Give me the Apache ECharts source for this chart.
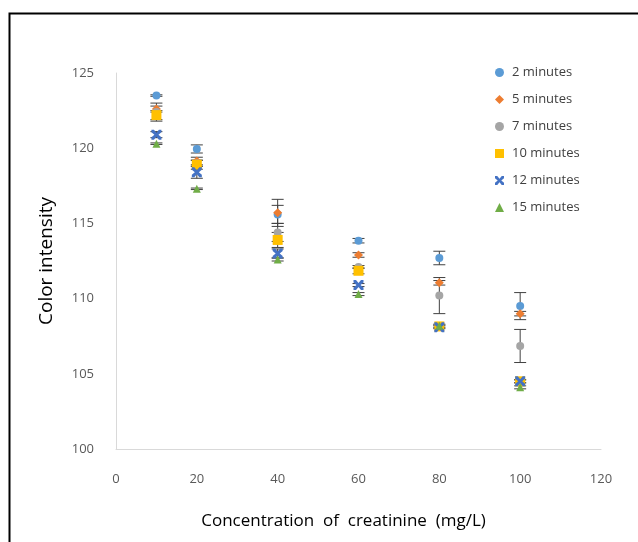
<!DOCTYPE html>
<html>
<head>
<meta charset="utf-8">
<script src="https://cdn.jsdelivr.net/npm/echarts@6/dist/echarts.min.js"></script>
<style>
  html, body { margin: 0; padding: 0; background: #fff; }
  #chart { width: 638px; height: 542px; }
</style>
</head>
<body>
<div id="chart"></div>
<script>
// Creatinine concentration (mg/L)
const concentrations = [10, 20, 40, 60, 80, 100];

// Mean colour intensity per reaction time
const min2  = [123.5, 119.95, 115.6, 113.85, 112.7, 109.5];
const min5  = [122.6, 119.15, 115.7, 112.9, 111.05, 109.0];
const min7  = [122.4, 119.0, 114.4, 112.1, 110.2, 106.85];
const min10 = [122.2, 118.9, 113.9, 111.85, 108.15, 104.5];
const min12 = [120.9, 118.4, 113.0, 110.9, 108.1, 104.5];
const min15 = [120.3, 117.3, 112.6, 110.3, 108.2, 104.1];

// Standard deviations
const sd2  = [0.05, 0.27, 0.6, 0.15, 0.45, 0.9];
const sd5  = [0.2, 0.25, 0.9, 0.15, 0.15, 0.15];
const sd7  = [0.6, 0.2, 0.6, 0.1, 1.2, 1.1];
const sd10 = [0.3, 0.3, 0.5, 0.2, 0.1, 0.1];
const sd12 = [0.2, 0.4, 0.3, 0.1, 0.1, 0.1];
const sd15 = [0.05, 0.05, 0.1, 0.1, 0.1, 0.1];

const seriesNames = ['2 minutes', '5 minutes', '7 minutes', '10 minutes', '12 minutes', '15 minutes'];
const seriesValues = [min2, min5, min7, min10, min12, min15];
const seriesErrors = [sd2, sd5, sd7, sd10, sd12, sd15];
const seriesColors = ['#5B9BD5', '#ED7D31', '#A5A5A5', '#FFC000', '#4472C4', '#70AD47'];
const crossPath = 'path://M0,0 L2.5,0 L5,3 L7.5,0 L10,0 L10,2.5 L7,5 L10,7.5 L10,10 L7.5,10 L5,7 L2.5,10 L0,10 L0,7.5 L3,5 L0,2.5 Z';
const seriesSymbols = ['circle', 'diamond', 'circle', 'rect', crossPath, 'triangle'];
const seriesSizes = [8, 9, 8, 10, 10, 8];

const font = '"Open Sans", "DejaVu Sans", sans-serif';

const chart = echarts.init(document.getElementById('chart'), null, { renderer: 'canvas' });

// Vertical error bar with caps for one series
function errorBarSeries(i) {
  const data = concentrations.map((c, k) => [c, seriesValues[i][k], seriesErrors[i][k]]);
  return {
    type: 'custom',
    name: seriesNames[i] + ' SD',
    data: data,
    z: 1,
    silent: true,
    renderItem: function (params, api) {
      const x = api.value(0), y = api.value(1), e = api.value(2);
      const top = api.coord([x, y + e]);
      const bot = api.coord([x, y - e]);
      const hw = 6;
      const style = { stroke: '#404040', lineWidth: 1 };
      return {
        type: 'group',
        children: [
          { type: 'line', shape: { x1: top[0], y1: top[1], x2: bot[0], y2: bot[1] }, style: style },
          { type: 'line', shape: { x1: top[0] - hw, y1: top[1], x2: top[0] + hw, y2: top[1] }, style: style },
          { type: 'line', shape: { x1: bot[0] - hw, y1: bot[1], x2: bot[0] + hw, y2: bot[1] }, style: style }
        ]
      };
    }
  };
}

const series = [];
seriesNames.forEach((name, i) => series.push(errorBarSeries(i)));
seriesNames.forEach((name, i) => {
  series.push({
    type: 'scatter',
    name: name,
    data: concentrations.map((c, k) => [c, seriesValues[i][k]]),
    symbol: seriesSymbols[i],
    symbolSize: seriesSizes[i],
    itemStyle: { color: seriesColors[i], opacity: 1 },
    z: 2 + i
  });
});

chart.setOption({
  animation: false,
  backgroundColor: '#fff',
  grid: { left: 116, right: 37, top: 73, bottom: 93, containLabel: false },
  legend: {
    orient: 'vertical',
    left: 490,
    top: 61,
    itemGap: 14,
    itemWidth: 9,
    itemHeight: 9,
    data: seriesNames.map((n, i) => ({ name: n, icon: seriesSymbols[i] })),
    textStyle: { fontFamily: font, fontSize: 13, color: '#404040', padding: [0, 0, 0, 3] }
  },
  xAxis: {
    type: 'value',
    min: 0, max: 120, interval: 20,
    axisLine: { show: true, lineStyle: { color: '#D9D9D9' } },
    axisTick: { show: false },
    splitLine: { show: false },
    axisLabel: { margin: 24, fontFamily: font, fontSize: 13, color: '#595959' },
    name: 'Concentration  of  creatinine  (mg/L)',
    nameLocation: 'middle',
    nameGap: 64,
    nameTextStyle: { fontFamily: font, fontSize: 17, color: '#000', padding: [0, 30, 0, 0] }
  },
  yAxis: {
    type: 'value',
    min: 100, max: 125, interval: 5,
    axisLine: { show: true, lineStyle: { color: '#D9D9D9' } },
    axisTick: { show: false },
    splitLine: { show: false },
    axisLabel: { margin: 22, fontFamily: font, fontSize: 13, color: '#595959' },
    name: 'Color intensity',
    nameLocation: 'middle',
    nameGap: 60,
    nameTextStyle: { fontFamily: font, fontSize: 19, color: '#000' }
  },
  graphic: [
    {
      type: 'rect',
      shape: { x: 9.5, y: 13.5, width: 640, height: 540 },
      style: { fill: 'none', stroke: '#000', lineWidth: 2 },
      silent: true,
      z: 100
    }
  ],
  series: series
});
</script>
</body>
</html>
